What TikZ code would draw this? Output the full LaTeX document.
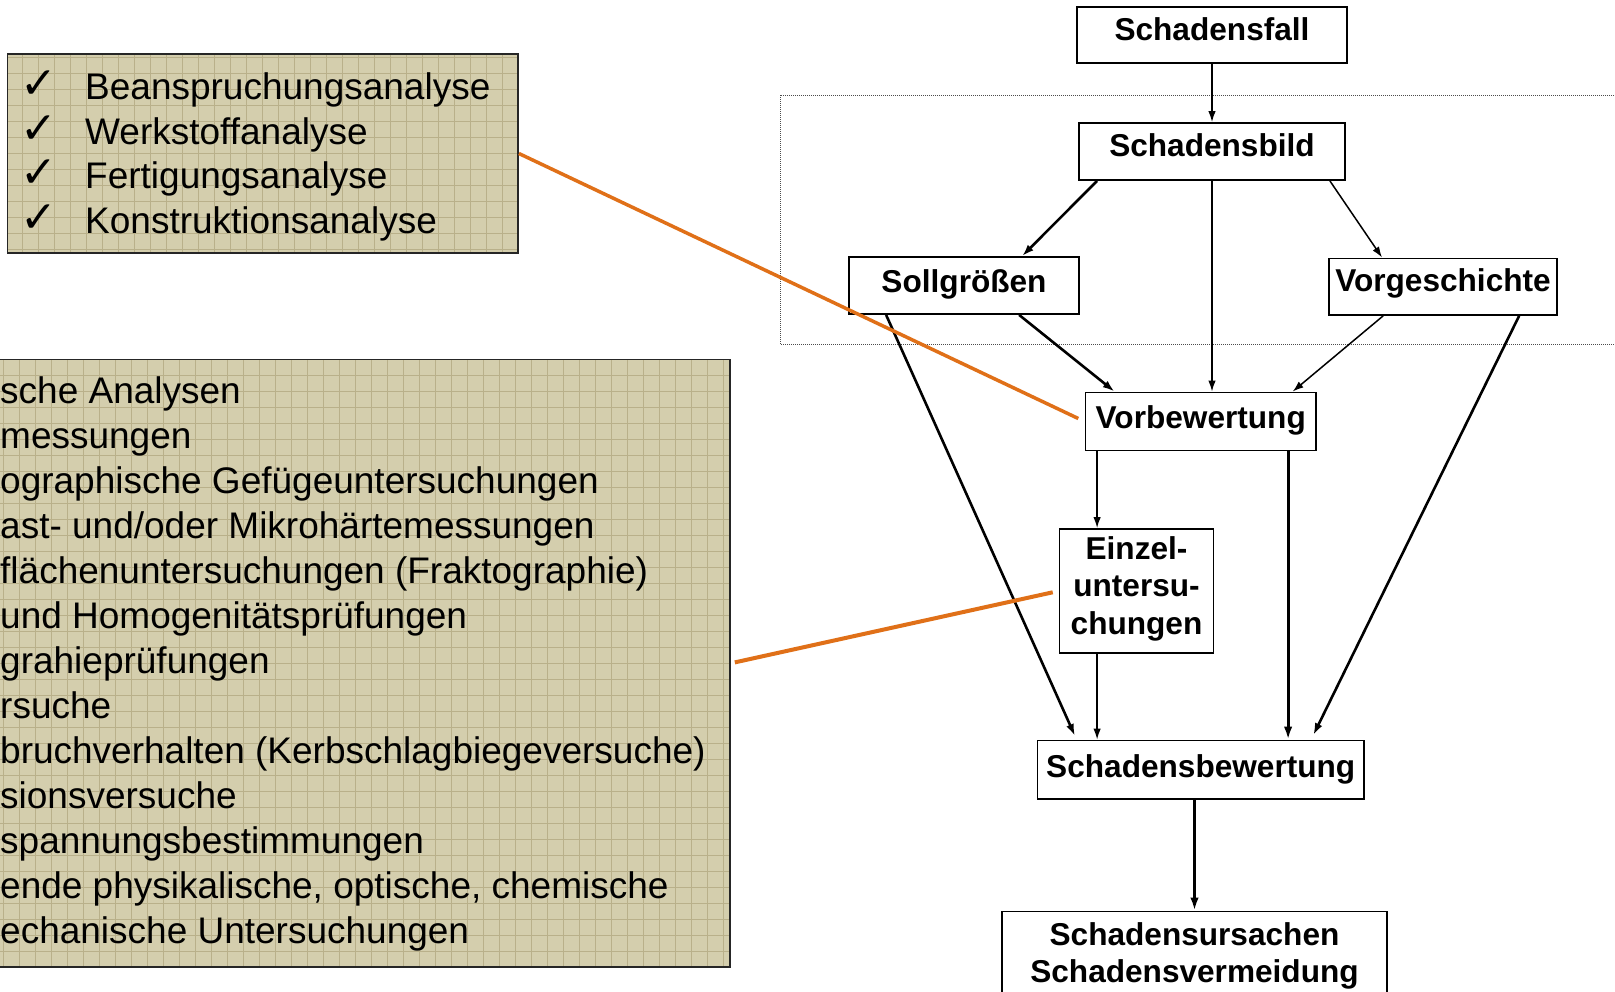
\documentclass[tikz,border=0pt]{standalone}
\usepackage{fontspec}
\setmainfont{Liberation Sans}
\newfontfamily\symfont{DejaVu Sans}
\usetikzlibrary{arrows.meta,calc}
\definecolor{khaki}{HTML}{D4CEAD}
\definecolor{gridc}{HTML}{B9B08A}
\definecolor{orng}{HTML}{E07018}
\begin{document}
\begin{tikzpicture}[x=1pt,y=-1pt,
  flow/.style={draw=black, line width=1.8pt, fill=white, inner xsep=0pt, inner ysep=0pt,
    font=\fontsize{31.6}{37.5}\selectfont\bfseries},
  listbox/.style={draw=black!85, line width=1.8pt, fill=khaki, inner sep=0pt,
    path picture={\draw[gridc, line width=0.7pt, shift={(1pt,0pt)}] ([shift={(-32pt,-32pt)}]path picture bounding box.south west) grid[step=16pt] ([shift={(32pt,32pt)}]path picture bounding box.north east);}},
  listtxt/.style={anchor=base west, inner sep=0pt, font=\fontsize{37}{44.6}\selectfont},
  chk/.style={anchor=base, inner sep=0pt, font=\symfont\fontsize{44}{44}\selectfont},
  arr/.style={-{Latex[length=11pt,width=7.5pt]}, line width=1.5pt},
  medarr/.style={-{Latex[length=12pt,width=8pt]}, line width=2.6pt},
  thickarr/.style={-{Latex[length=13pt,width=8.5pt]}, line width=3.2pt},
  orangeline/.style={draw=orng, line width=3.5pt},
  frame/.style={draw=black!70, line width=0.9pt, dash pattern=on 0.8pt off 1.2pt}
]
\useasboundingbox (0,0) rectangle (1615,991);
\fill[white] (0,0) rectangle (1615,991);

% dotted frame
\draw[frame] (780,95) rectangle (1640,344);

% left boxes
\node[listbox, minimum width=510.5pt, minimum height=199pt] (ana) at (262.75,153.5) {};
\foreach \t/\y in {Beanspruchungsanalyse/99.5, Werkstoffanalyse/144, Fertigungsanalyse/188.5, Konstruktionsanalyse/233}{
  \node[chk] at (39,\y-1) {✓};
  \node[listtxt] at (85,\y) {\t};
}

\node[listbox, minimum width=750pt, minimum height=607.5pt] (tests) at (355,663.25) {};
\node[listtxt] at (0,403) {sche Analysen};
\node[listtxt] at (0,448) {messungen};
\node[listtxt] at (0,493) {ographische Gefügeuntersuchungen};
\node[listtxt] at (0,538) {ast- und/oder Mikrohärtemessungen};
\node[listtxt] at (0,583) {flächenuntersuchungen (Fraktographie)};
\node[listtxt] at (0,628) {und Homogenitätsprüfungen};
\node[listtxt] at (0,673) {grahieprüfungen};
\node[listtxt] at (0,718) {rsuche};
\node[listtxt] at (0,763) {bruchverhalten (Kerbschlagbiegeversuche)};
\node[listtxt] at (0,808) {sionsversuche};
\node[listtxt] at (0,853) {spannungsbestimmungen};
\node[listtxt] at (0,898) {ende physikalische, optische, chemische};
\node[listtxt] at (0,943) {echanische Untersuchungen};

% flow boxes
\node[flow, minimum width=270pt, text height=33pt, text depth=23pt] (sf) at (1212,35) {Schadensfall};
\node[flow, minimum width=266pt, text height=33.5pt, text depth=23.5pt] (sb) at (1212,151.5) {Schadensbild};
\node[flow, minimum width=230pt, text height=35.5pt, text depth=21.5pt] (sg) at (964,285.5) {Sollgrößen};
\node[flow, minimum width=228pt, text height=33.2pt, text depth=23.3pt] (vg) at (1443,286.75) {Vorgeschichte};
\node[flow, minimum width=230.5pt, text height=35.5pt, text depth=22.5pt] (vb) at (1200.75,421.5) {Vorbewertung};
\node[flow, minimum width=154pt, text height=30pt, text depth=94pt] (ez) at (1136.5,591)
  {\begin{tabular}[t]{@{}c@{}}Einzel-\\untersu-\\chungen\end{tabular}};
\node[flow, minimum width=326.5pt, text height=36.5pt, text depth=22pt] (sbw) at (1200.75,769.75) {Schadensbewertung};
\node[flow, minimum width=385pt, text height=33.5pt, text depth=58pt] (bot) at (1194.5,957.25)
  {\begin{tabular}[t]{@{}c@{}}Schadensursachen\\Schadensvermeidung\end{tabular}};

% black connectors
\draw[arr] (sf.south) -- (sb.north);
\draw[medarr] ($(sb.south west)+(19,0)$) -- ($(sg.north west)+(174,0)$);
\draw[arr] ($(sb.south east)+(-16,0)$) -- ($(vg.north west)+(54,0)$);
\draw[arr] (sb.south) -- (sb.south |- vb.north);
\draw[medarr] ($(sg.south west)+(171,0)$) -- ($(vb.north west)+(30,0)$);
\draw[arr] ($(vg.south west)+(55,0)$) -- ($(vb.north west)+(208,0)$);
\draw[medarr, shorten >=4pt] ($(sg.south west)+(38,0)$) -- ($(sbw.north west)+(40,0)$);
\draw[medarr, shorten >=5pt] ($(vg.south west)+(191,0)$) -- ($(sbw.north west)+(274.5,0)$);
\draw[arr] ($(vb.south west)+(12.5,0)$) coordinate (v1) -- (v1 |- ez.north);
\draw[thickarr] ($(vb.south west)+(203.5,0)$) coordinate (v2) -- (v2 |- sbw.north);
\draw[arr] ($(ez.south west)+(38.5,0)$) coordinate (e1) -- (e1 |- sbw.north);
\draw[thickarr] (bot.north |- sbw.south) -- (bot.north);

% orange connectors
\draw[orangeline, shorten >=7pt] (ana.east) -- (vb.west);
\draw[orangeline, line width=4pt, shorten <=4pt, shorten >=6pt] (tests.east) -- (ez.west);
\end{tikzpicture}
\end{document}
